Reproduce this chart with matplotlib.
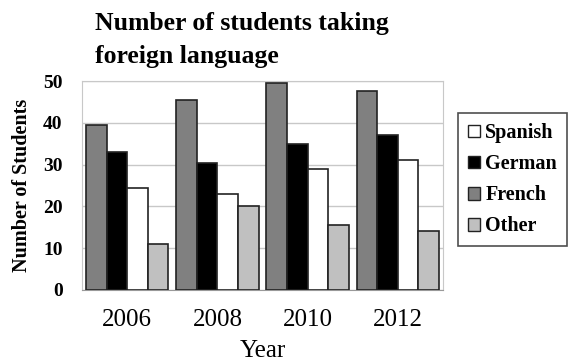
import numpy as np
import matplotlib.pyplot as plt
from matplotlib.patches import Patch

years = ['2006', '2008', '2010', '2012']
french = [39.5, 45.5, 49.5, 47.5]
german = [33, 30.5, 35, 37]
spanish = [24.5, 23, 29, 31]
other = [11, 20, 15.5, 14]

plt.rcParams['font.family'] = ['Liberation Serif', 'DejaVu Serif']

fig = plt.figure(figsize=(5.7, 3.64), dpi=100)
ax = fig.add_axes([82/570, 1 - 290/364, 361/570, 209/364])

x = np.arange(len(years))
w = 0.228
series = [(french, '#808080', 'French'), (german, '#000000', 'German'),
          (spanish, '#ffffff', 'Spanish'), (other, '#c0c0c0', 'Other')]
for i, (vals, col, name) in enumerate(series):
    ax.bar(x + (i - 1.5) * w, vals, w, color=col, edgecolor='#222222', linewidth=1.2, zorder=3)

ax.set_xlim(-0.5, 3.5)
ax.set_ylim(0, 50)
ax.set_yticks([0, 10, 20, 30, 40, 50])
ax.yaxis.grid(True, color='#c8c8c8', linewidth=1, zorder=0)
ax.tick_params(length=0)
ax.set_xticks(x)
ax.set_xticklabels(years, fontsize=18)
for t in ax.get_yticklabels():
    t.set_fontweight('bold')
    t.set_fontsize(14)
ax.tick_params(axis='y', pad=14)
ax.tick_params(axis='x', pad=14)
for s in ax.spines.values():
    s.set_color('#c8c8c8')
ax.spines['bottom'].set_color('#999999')

ax.set_xlabel('Year', fontsize=18, labelpad=6)
ax.set_ylabel('Number of Students', fontsize=14.5, fontweight='bold', labelpad=8)

fig.text(95/570, 1 - 30/364, 'Number of students taking', fontsize=18.5, fontweight='bold')
fig.text(95/570, 1 - 63/364, 'foreign language', fontsize=18.5, fontweight='bold')

handles = [Patch(facecolor='#ffffff', edgecolor='#222222', label='Spanish'),
           Patch(facecolor='#000000', edgecolor='#222222', label='German'),
           Patch(facecolor='#808080', edgecolor='#222222', label='French'),
           Patch(facecolor='#c0c0c0', edgecolor='#222222', label='Other')]
leg = fig.legend(handles=handles, loc='upper left', bbox_to_anchor=(458/570, 1 - 113/364),
                 frameon=True, fancybox=False, edgecolor='#222222',
                 prop={'weight': 'bold', 'size': 14.5}, handlelength=0.6, handleheight=0.6,
                 handletextpad=0.25, labelspacing=0.55, borderpad=0.5, borderaxespad=0)
leg.get_frame().set_linewidth(1.2)

fig.savefig('out.png', dpi=100)
